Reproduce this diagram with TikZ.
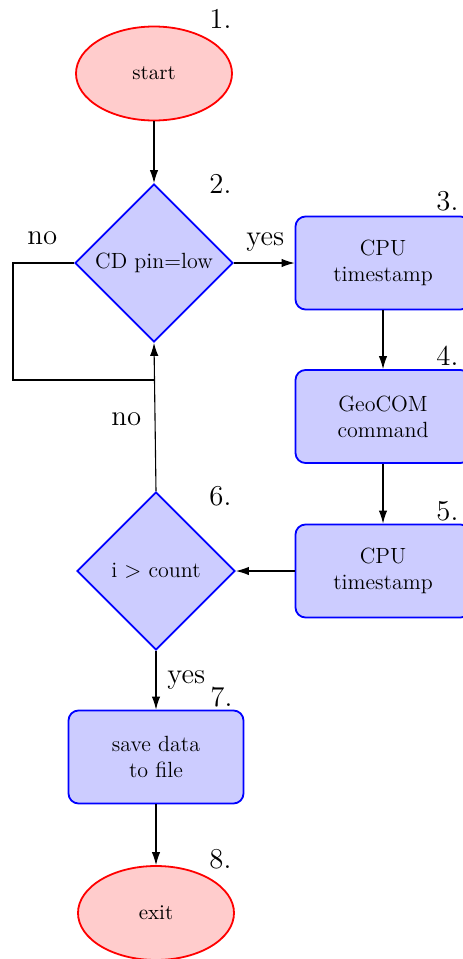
\documentclass[tikz,border=0pt]{standalone}
\usetikzlibrary{shapes.geometric,arrows.meta,positioning}
\begin{document}
\begin{tikzpicture}[x=0.5pt,y=-0.5pt,
  term/.style={ellipse, draw=red, fill=red!20, line width=0.9pt, minimum width=78pt, minimum height=47pt, inner sep=0pt, font=\fontsize{10.5}{12.5}\selectfont},
  decide/.style={diamond, aspect=1, draw=blue, fill=blue!20, line width=0.9pt, minimum width=79pt, minimum height=79pt, inner sep=0pt, font=\fontsize{11}{13}\selectfont},
  proc/.style={rectangle, rounded corners=5pt, draw=blue, fill=blue!20, line width=0.9pt, minimum width=87.5pt, minimum height=46.5pt, inner sep=0pt, align=center, font=\fontsize{11}{13}\selectfont},
  conn/.style={line width=0.55pt, -{Latex[length=6.5pt,width=4.2pt]}},
  line/.style={line width=0.55pt},
  lbl/.style={anchor=base west, inner sep=0pt, font=\fontsize{14.4}{16}\selectfont}
]
\useasboundingbox (0,0) rectangle (462,959);
\node[term] (start) at (154,73.5) {start};
\node[decide] (d2) at (154,263) {CD pin=low};
\node[proc] (b3) at (383,263) {CPU\\timestamp};
\node[proc] (b4) at (383,416.5) {GeoCOM\\command};
\node[proc] (b5) at (383,571) {CPU\\timestamp};
\node[decide] (d6) at (156,571) {i $>$ count};
\node[proc] (b7) at (156,757) {save data\\to file};
\node[term] (exit) at (156,913) {exit};

\coordinate (c1) at (13,263);
\coordinate (c2) at (155,380);

\draw[conn] (start) -- (d2);
\draw[conn] (d2.east) -- (b3.west);
\draw[conn] (b3) -- (b4);
\draw[conn] (b4) -- (b5);
\draw[conn] (b5.west) -- (d6.east);
\draw[conn] (d6.north) -- (d2.south);
\draw[line] (d2.west) -- (c1) |- (c2);
\draw[conn] (d6.south) -- (b7.north);
\draw[conn] (b7) -- (exit);

\node[lbl] (n1) at (209,28) {1.};
\node[lbl] (n2) at (209,193) {2.};
\node[lbl] (n3) at (436,210) {3.};
\node[lbl] (n4) at (436,365) {4.};
\node[lbl] (n5) at (436,520) {5.};
\node[lbl] (n6) at (209,505) {6.};
\node[lbl] (n7) at (210,706) {7.};
\node[lbl] (n8) at (209,868) {8.};
\node[lbl] (no1) at (27,244) {no};
\node[lbl] (yes1) at (246,245) {yes};
\node[lbl] (no2) at (111,425) {no};
\node[lbl] (yes2) at (167,683) {yes};
\end{tikzpicture}
\end{document}
